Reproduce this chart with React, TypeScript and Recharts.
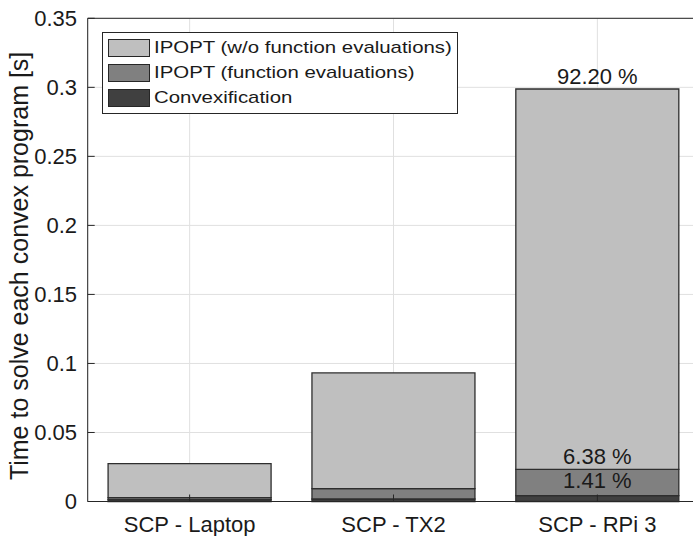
import React from 'react';
import {
  Bar,
  BarChart,
  CartesianGrid,
  LabelList,
  XAxis,
  YAxis,
} from 'recharts';

const categories = ['SCP - Laptop', 'SCP - TX2', 'SCP - RPi 3'];
const convexification = [0.0013, 0.0018, 0.0042];
const functionEvals = [0.0015, 0.0075, 0.0191];
const ipoptOther = [0.0246, 0.0838, 0.2755];

const convexLabels = ['', '', '1.41 %'];
const functionLabels = ['', '', '6.38 %'];
const ipoptLabels = ['', '', '92.20 %'];

const yTicks = [0, 0.05, 0.1, 0.15, 0.2, 0.25, 0.3, 0.35];

const legendItems = [
  { name: 'IPOPT (w/o function evaluations)', color: '#bfbfbf' },
  { name: 'IPOPT (function evaluations)', color: '#808080' },
  { name: 'Convexification', color: '#404040' },
];

const data = categories.map((name, i) => ({
  name,
  convex: convexification[i],
  func: functionEvals[i],
  ipopt: ipoptOther[i],
  convexLabel: convexLabels[i],
  funcLabel: functionLabels[i],
  ipoptLabel: ipoptLabels[i],
}));

const font = '"Liberation Sans", Arial, Helvetica, sans-serif';
const axisColor = '#262626';
const textColor = '#1a1a1a';

// only the RPi bar carries percentage labels
const makeLabel = (gap: number) => (props: any) => {
  const { x, y, width, value } = props;
  if (!value) return null;
  return (
    <text
      x={Number(x) + Number(width) / 2}
      y={Number(y) - gap}
      textAnchor="middle"
      fontSize={22}
      fontFamily={font}
      fill={textColor}
    >
      {value}
    </text>
  );
};

function LegendBox() {
  return (
    <div
      style={{
        position: 'absolute',
        left: 101.7,
        top: 32.3,
        width: 354,
        border: `1px solid ${axisColor}`,
        background: '#fff',
        padding: '2px 0 3px 0',
        fontFamily: font,
        fontSize: 17,
        color: textColor,
      }}
    >
      {legendItems.map((item) => (
        <div
          key={item.name}
          style={{ display: 'flex', alignItems: 'center', height: 25 }}
        >
          <div
            style={{
              width: 40,
              height: 16,
              marginLeft: 5,
              marginRight: 4,
              background: item.color,
              border: `1px solid ${axisColor}`,
              flex: 'none',
            }}
          />
          <span
            style={{
              whiteSpace: 'nowrap',
              display: 'inline-block',
              transform: 'scaleX(1.2)',
              transformOrigin: 'left center',
            }}
          >
            {item.name}
          </span>
        </div>
      ))}
    </div>
  );
}

export default function App() {
  return (
    <div
      style={{
        position: 'absolute',
        left: 0,
        top: 0,
        width: 693,
        height: 536,
        overflow: 'hidden',
        background: '#fff',
      }}
    >
      <BarChart
        width={712}
        height={536}
        data={data}
        barCategoryGap="10%"
        margin={{ top: 17.3, right: 11.7, left: 0, bottom: 0 }}
      >
        <CartesianGrid stroke="#e0e0e0" strokeWidth={1} />
        <XAxis
          dataKey="name"
          height={34.5}
          tickSize={-7}
          tickMargin={21.5}
          stroke={axisColor}
          tick={{ fontSize: 22, fontFamily: font, fill: textColor }}
          interval={0}
        />
        <XAxis
          xAxisId="top"
          dataKey="name"
          orientation="top"
          height={1}
          tickSize={-7}
          tick={false}
          stroke={axisColor}
        />
        <YAxis
          width={87.7}
          domain={[0, 0.35]}
          ticks={yTicks}
          tickSize={-7}
          tickMargin={17.7}
          stroke={axisColor}
          tick={{ fontSize: 22, fontFamily: font, fill: textColor }}
          label={{
            value: 'Time to solve each convex program [s]',
            angle: -90,
            position: 'center',
            dx: -25,
            dy: 6,
            style: { fontSize: 25, fontFamily: font, fill: textColor },
          }}
        />
        <YAxis
          yAxisId="right"
          orientation="right"
          width={1}
          domain={[0, 0.35]}
          ticks={yTicks}
          tickSize={-7}
          tick={false}
          stroke={axisColor}
        />
        <Bar
          dataKey="convex"
          stackId="a"
          fill="#404040"
          stroke="#2e2e2e"
          strokeWidth={1.3}
          isAnimationActive={false}
        >
          <LabelList dataKey="convexLabel" content={makeLabel(7.5)} />
        </Bar>
        <Bar
          dataKey="func"
          stackId="a"
          fill="#808080"
          stroke="#2e2e2e"
          strokeWidth={1.3}
          isAnimationActive={false}
        >
          <LabelList dataKey="funcLabel" content={makeLabel(5)} />
        </Bar>
        <Bar
          dataKey="ipopt"
          stackId="a"
          fill="#bfbfbf"
          stroke="#2e2e2e"
          strokeWidth={1.3}
          isAnimationActive={false}
        >
          <LabelList dataKey="ipoptLabel" content={makeLabel(5)} />
        </Bar>
      </BarChart>
      <LegendBox />
    </div>
  );
}
